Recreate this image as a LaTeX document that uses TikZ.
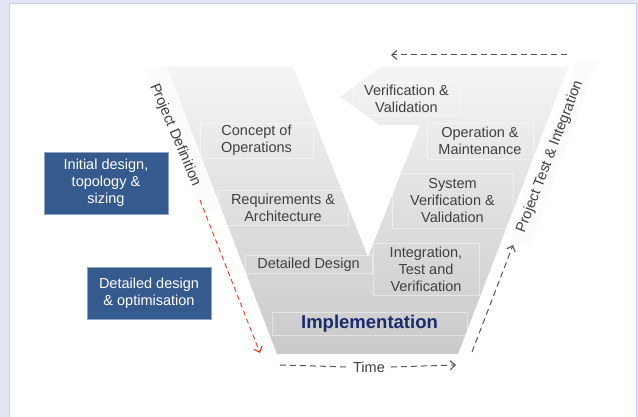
\documentclass[tikz,border=0pt]{standalone}
\usepackage{fontspec}
\setmainfont{Liberation Sans}
\usetikzlibrary{arrows.meta,positioning}

\definecolor{framebg}{HTML}{E3E6F3}
\definecolor{frameline}{HTML}{C6D0EA}
\definecolor{stagetext}{HTML}{404040}
\definecolor{phaseblue}{HTML}{355A8E}
\definecolor{implnavy}{HTML}{1C2B6E}
\definecolor{arrowgray}{HTML}{555555}
\definecolor{defred}{HTML}{E8391E}

\begin{document}
\begin{tikzpicture}[x=1pt, y=-1pt,
    txt/.style={font=\fontsize{14.5}{17}\selectfont},
    stage/.style={txt, draw=white, draw opacity=0.45, line width=0.6pt, align=center,
                  text=stagetext, inner sep=0pt},
    phase/.style={txt, fill=phaseblue, draw=phaseblue!55!white, line width=0.5pt,
                  text=white, align=center, inner sep=0pt},
    sidelabel/.style={txt, text=stagetext, inner sep=0pt},
    dasharrow/.style={arrowgray, line width=1pt, dash pattern=on 6pt off 4pt,
                      -{Straight Barb[length=5pt, width=9pt, line width=1.1pt]}}]
          \useasboundingbox (0,0) rectangle (638,417);
          % frame
          \fill[framebg] (0,0) rectangle (638,417);
          \filldraw[fill=white, draw=frameline, line width=0.8pt] (9,3) rectangle (636,430);
          % light bands along the arms
          \fill[gray!3] (146,67) -- (167,67) -- (221,210) -- (200,210) -- cycle;
          \fill[gray!3] (577,62) -- (597,62) -- (530,245) -- (510,245) -- cycle;
          % the V
          \shade[top color=gray!8, bottom color=gray!42]
               (167,67) -- (293,67) -- (368,257) -- (420,125) -- (380,125)
               -- (340,97) -- (380,67) -- (568,67) -- (458,354) -- (277,354) -- cycle;
          % stages
          \node[stage, minimum width=113, minimum height=35] (concept) at (256.5,140.5)
               {Concept of\\Operations};
          \node[stage, minimum width=130, minimum height=35] (reqs) at (283,207.5)
               {Requirements \&\\Architecture};
          \node[stage, minimum width=127, minimum height=18] (detail) at (308.5,264.5)
               {Detailed Design};
          \node[stage, minimum width=106, minimum height=52] (integ) at (426,269)
               {Integration,\\Test and\\Verification};
          \node[stage, minimum width=121, minimum height=55] (sysver) at (452.5,200.5)
               {System\\Verification \&\\Validation};
          \node[stage, minimum width=106, minimum height=36] (opmaint) at (480,141)
               {Operation \&\\Maintenance};
          \node[stage, minimum width=107, minimum height=33] (verval) at (406.5,98.5)
               {Verification \&\\Validation};
          \node[stage, minimum width=195, minimum height=23,
                font=\fontsize{18.5}{20}\selectfont\bfseries, text=implnavy] (impl)
               at (369.5,323.5) {Implementation};
          % design phases
          \node[phase, minimum width=124, minimum height=62] (initial) at (106,183)
               {Initial design,\\topology \&\\sizing};
          \node[phase, minimum width=124, minimum height=52] (detailed) at (149,293)
               {Detailed design\\\& optimisation};
          % side labels
          \node[sidelabel, rotate=-67] (projdef) at (175,135) {Project Definition};
          \node[sidelabel, rotate=69] (projtest) at (550,157) {Project Test \& Integration};
          \node[sidelabel] (time) at (369,367) {Time};
          % arrows
          \coordinate (defstart) at (200,200);
          \coordinate (defend) at (260,353);
          \draw[defred, line width=0.9pt, dash pattern=on 5pt off 3.5pt,
                -{Straight Barb[length=5pt, width=9pt, line width=1.1pt]}] (defstart) -- (defend);
          \coordinate (backstart) at (567,55);
          \coordinate (backend) at (391,55);
          \draw[dasharrow] (backstart) -- (backend);
          \coordinate (timestart) at (280,365);
          \coordinate (timeend) at (456,365);
          \draw[dasharrow, -] (timestart) -- ([xshift=-4pt]time.west);
          \draw[dasharrow] ([xshift=6pt]time.east) -- (timeend);
          \coordinate (teststart) at (472,352);
          \coordinate (testend) at (513,245);
          \draw[dasharrow] (teststart) -- (testend);
        \end{tikzpicture}
\end{document}
